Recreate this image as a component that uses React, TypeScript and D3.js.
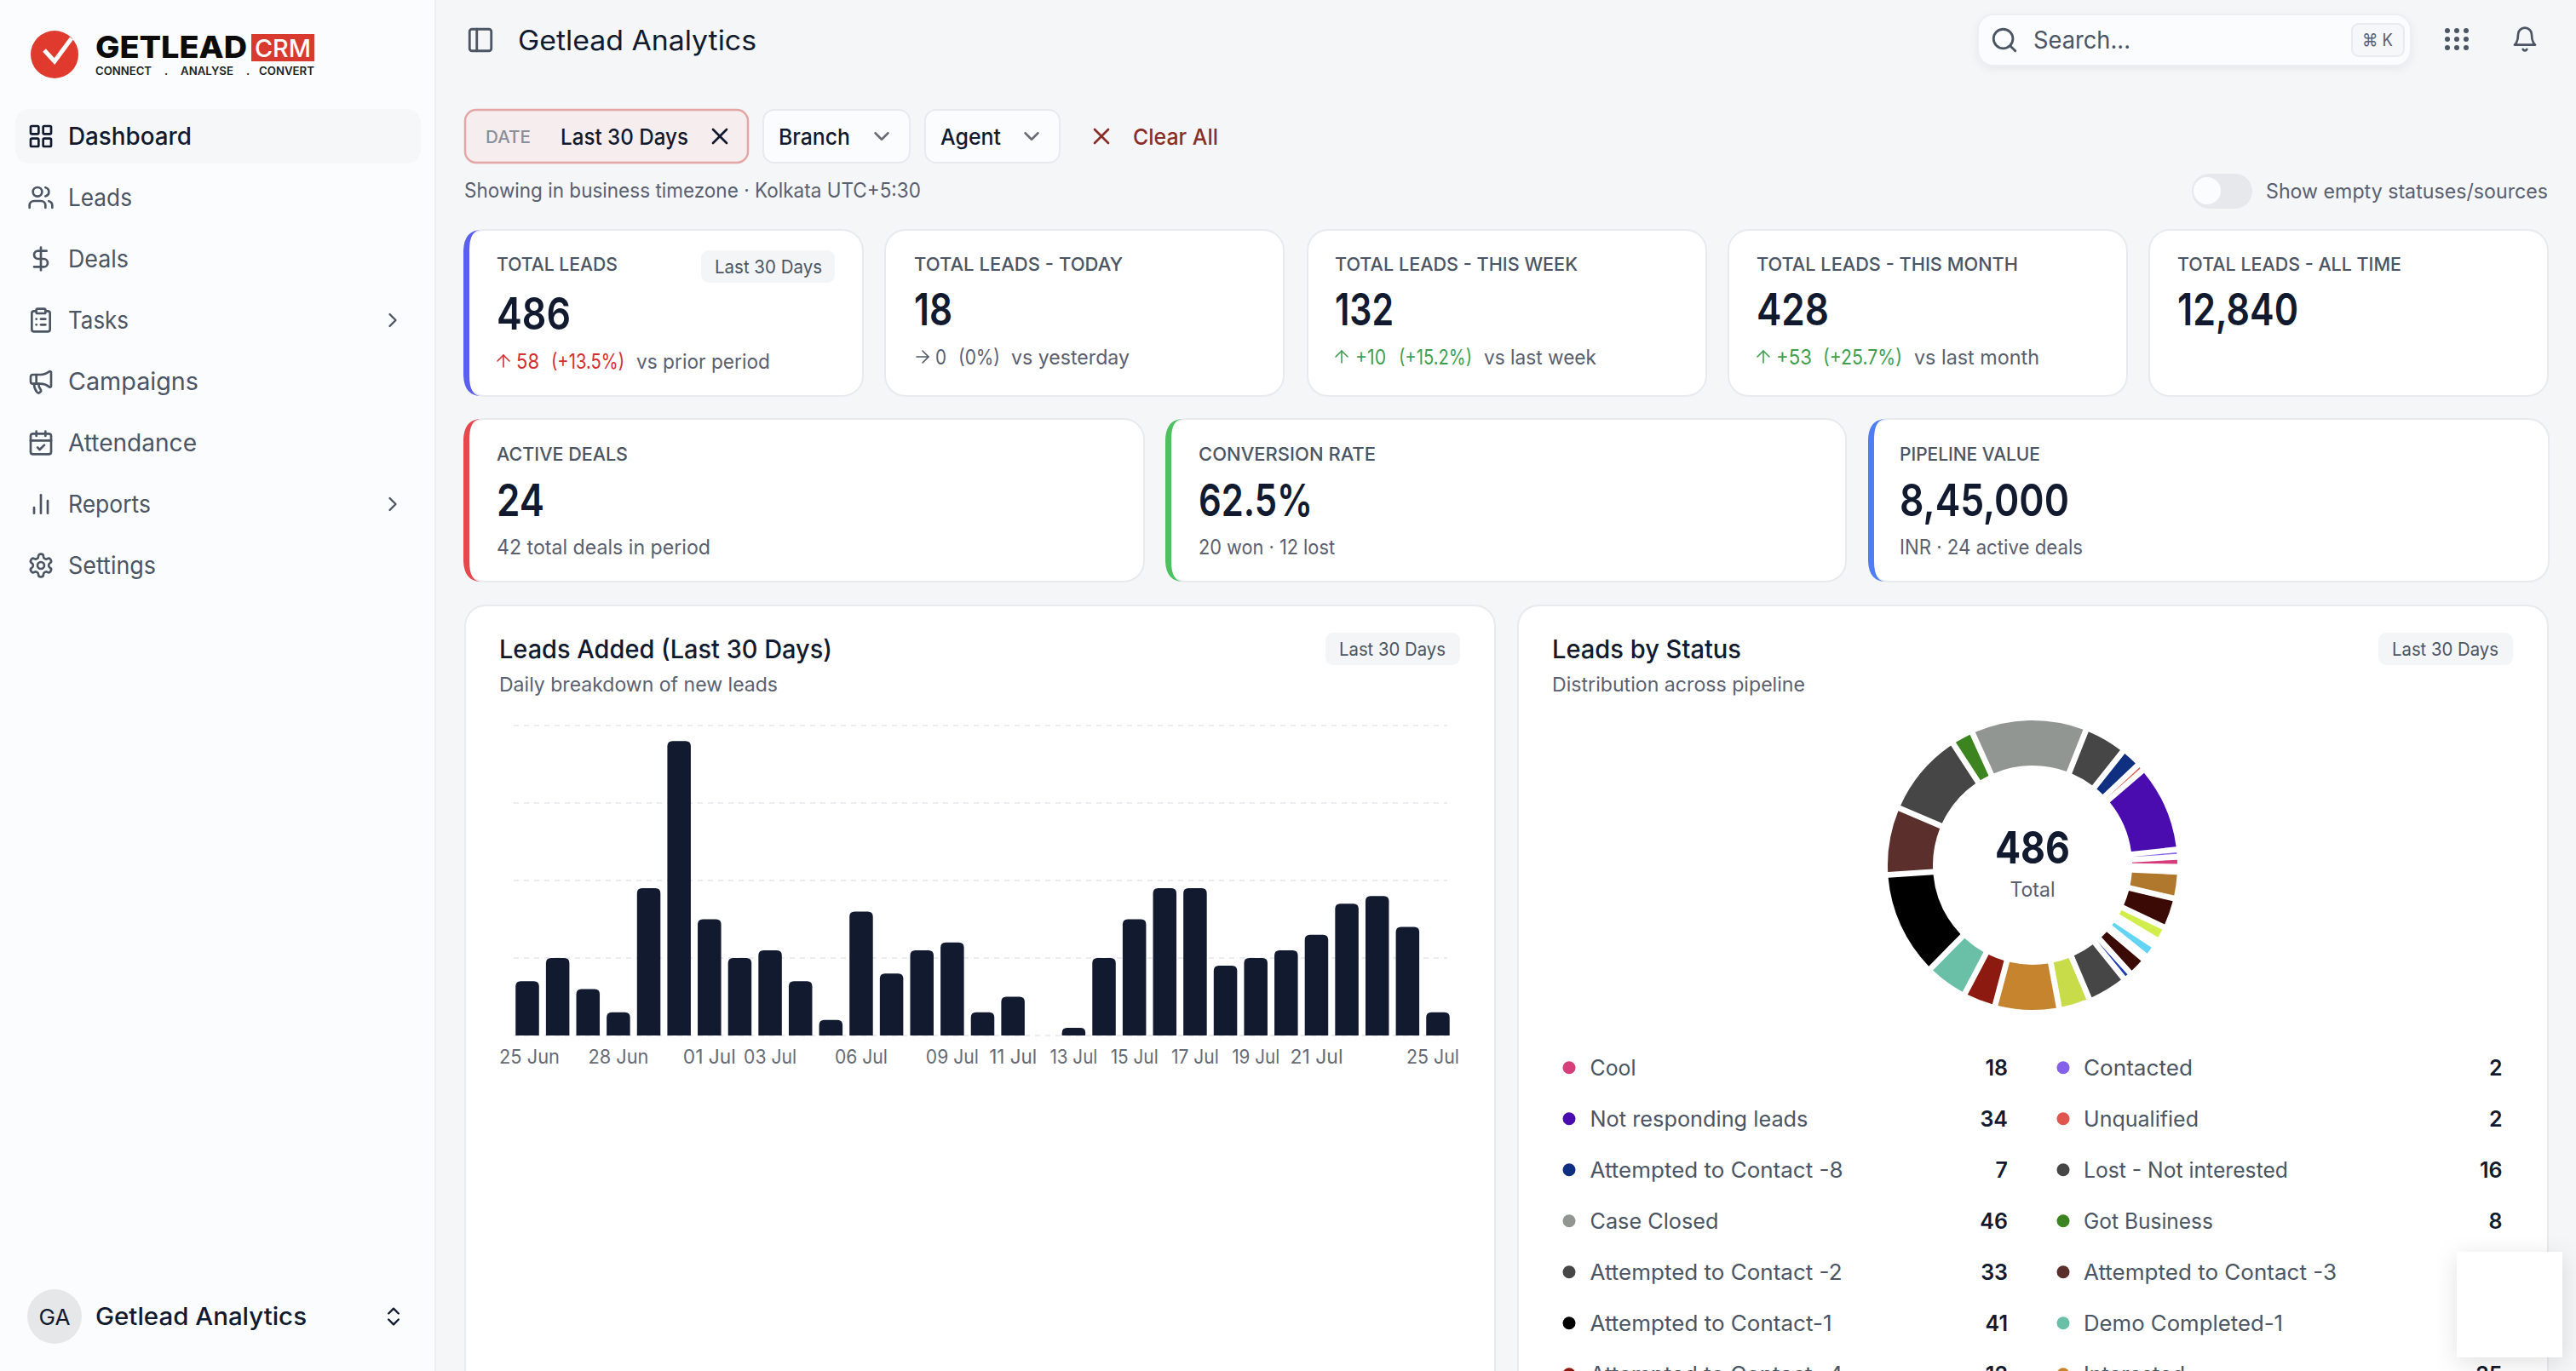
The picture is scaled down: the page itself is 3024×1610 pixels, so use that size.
import React from "react";
import * as d3 from "d3";

// ---------- data ----------
const dayLabels = ["25 Jun","26 Jun","27 Jun","28 Jun","29 Jun","30 Jun","01 Jul","02 Jul","03 Jul","04 Jul","05 Jul","06 Jul","07 Jul","08 Jul","09 Jul","10 Jul","11 Jul","12 Jul","13 Jul","14 Jul","15 Jul","16 Jul","17 Jul","18 Jul","19 Jul","20 Jul","21 Jul","22 Jul","23 Jul","24 Jul","25 Jul"];
const dayValues = [7,10,6,3,19,38,15,10,11,7,2,16,8,11,12,3,5,0,1,10,15,19,19,9,10,11,13,17,18,14,3];
const shownTicks = ["25 Jun","28 Jun","01 Jul","03 Jul","06 Jul","09 Jul","11 Jul","13 Jul","15 Jul","17 Jul","19 Jul","21 Jul","25 Jul"];
const gridValues = [0,10,20,30,40];

const legendNames = ["Cool","Contacted","Not responding leads","Unqualified","Attempted to Contact -8","Lost - Not interested","Case Closed","Got Business","Attempted to Contact -2","Attempted to Contact -3","Attempted to Contact-1","Demo Completed-1","Attempted to Contact -4","Interested"];
const legendValues = ["18","2","34","2","7","16","46","8","33","27","41","17","12","25"];
const legendColors = ["#d63d7a","#8461e8","#4a0cae","#e0554e","#0f2f80","#464646","#929692","#3b8420","#464646","#5a2f2c","#000000","#69c0a6","#8c1a10","#c6842f"];

// slices clockwise, starting with Case Closed; the unnamed entries are blank spacers seen in the ring
const sliceValues = [46,16.8,8,2.8,34.5,2.9,3.9,2,10.6,12,5.8,2.5,5.2,1.5,7.6,3.3,15.8,12.4,25.5,12.8,16.8,41.5,27,33.6,8.7];
const sliceColors = ["#929692","#464646","#0f2f80","#e0554e","#4a0cae","#8461e8","#d63d7a","none","#b0782c","#3c0a04","#d0ee4c","none","#64d4f4","none","#3c0a04","#1a3ab0","#464646","#c8db48","#c6842f","#8c1a10","#69c0a6","#000000","#5a2f2c","#464646","#3b8420"];

const navItems = ["Dashboard","Leads","Deals","Tasks","Campaigns","Attendance","Reports","Settings"];
const navIcons = ["grid","users","dollar","clipboard","megaphone","calendar","bars","gear"];

const kpiTitles = ["TOTAL LEADS","TOTAL LEADS - TODAY","TOTAL LEADS - THIS WEEK","TOTAL LEADS - THIS MONTH","TOTAL LEADS - ALL TIME"];
const kpiValues = ["486","18","132","428","12,840"];
const dealTitles = ["ACTIVE DEALS","CONVERSION RATE","PIPELINE VALUE"];
const dealValues = ["24","62.5%","8,45,000"];
const dealNotes = ["42 total deals in period","20 won · 12 lost","INR · 24 active deals"];

// ---------- layout ----------
const F = "Inter, 'Noto Sans', sans-serif";
const INK = "#111a2e", GREY = "#5a6070", RED = "#d32f2f", GREEN = "#3ea04e";

const rectD = (x:number,y:number,w:number,h:number,r:number)=>`M${x+r} ${y}h${w-2*r}a${r} ${r} 0 0 1 ${r} ${r}v${h-2*r}a${r} ${r} 0 0 1 ${-r} ${r}h${-(w-2*r)}a${r} ${r} 0 0 1 ${-r} ${-r}v${-(h-2*r)}a${r} ${r} 0 0 1 ${r} ${-r}z`;
const circD = (x:number,y:number,r:number)=>`M${x-r} ${y}a${r} ${r} 0 1 0 ${2*r} 0a${r} ${r} 0 1 0 ${-2*r} 0z`;
const ICONS: Record<string,string[]> = {
  grid:[rectD(3,3,7,7,1),rectD(14,3,7,7,1),rectD(14,14,7,7,1),rectD(3,14,7,7,1)],
  users:["M16 21v-2a4 4 0 0 0-4-4H6a4 4 0 0 0-4 4v2",circD(9,7,4),"M22 21v-2a4 4 0 0 0-3-3.87","M16 3.13a4 4 0 0 1 0 7.75"],
  dollar:["M12 2v20","M17 5H9.5a3.5 3.5 0 0 0 0 7h5a3.5 3.5 0 0 1 0 7H6"],
  clipboard:[rectD(8,2,8,4,1),"M16 4h2a2 2 0 0 1 2 2v14a2 2 0 0 1-2 2H6a2 2 0 0 1-2-2V6a2 2 0 0 1 2-2h2","M12 11h4","M12 16h4","M8 11h.01","M8 16h.01"],
  megaphone:["M11 6a13 13 0 0 0 8.4-2.8A1 1 0 0 1 21 4v12a1 1 0 0 1-1.6.8A13 13 0 0 0 11 14H5a2 2 0 0 1-2-2V8a2 2 0 0 1 2-2z","M6 14a12 12 0 0 0 2.4 7.2 2 2 0 0 0 3.2-2.4A8 8 0 0 1 10 14","M8 6v8"],
  calendar:["M8 2v4","M16 2v4",rectD(3,4,18,18,2),"M3 10h18","m9 16 2 2 4-4"],
  bars:["M12 20V4","M18 20V9","M6 20v-5"],
  gear:["M12.22 2h-.44a2 2 0 0 0-2 2v.18a2 2 0 0 1-1 1.73l-.43.25a2 2 0 0 1-2 0l-.15-.08a2 2 0 0 0-2.73.73l-.22.38a2 2 0 0 0 .73 2.73l.15.1a2 2 0 0 1 1 1.72v.51a2 2 0 0 1-1 1.74l-.15.09a2 2 0 0 0-.73 2.73l.22.38a2 2 0 0 0 2.73.73l.15-.08a2 2 0 0 1 2 0l.43.25a2 2 0 0 1 1 1.73V20a2 2 0 0 0 2 2h.44a2 2 0 0 0 2-2v-.18a2 2 0 0 1 1-1.73l.43-.25a2 2 0 0 1 2 0l.15.08a2 2 0 0 0 2.73-.73l.22-.39a2 2 0 0 0-.73-2.73l-.15-.08a2 2 0 0 1-1-1.74v-.5a2 2 0 0 1 1-1.74l.15-.09a2 2 0 0 0 .73-2.73l-.22-.38a2 2 0 0 0-2.73-.73l-.15.08a2 2 0 0 1-2 0l-.43-.25a2 2 0 0 1-1-1.73V4a2 2 0 0 0-2-2z",circD(12,12,3)],
  right:["m9 18 6-6-6-6"],
  down:["m6 9 6 6 6-6"],
  updown:["m7 15 5 5 5-5","m7 9 5-5 5 5"],
  x:["M18 6 6 18","m6 6 12 12"],
  search:[circD(11,11,8),"m21 21-4.3-4.3"],
  bell:["M6 8a6 6 0 0 1 12 0c0 7 3 9 3 9H3s3-2 3-9","M10.3 21a1.94 1.94 0 0 0 3.4 0"],
  panel:[rectD(3,3,18,18,2),"M9 3v18"],
  up:["m5 12 7-7 7 7","M12 19V5"],
  arrow:["M5 12h14","m12 5 7 7-7 7"],
};

const Icon = ({n,cx,cy,size=32,color="#4b5563",sw=2}:{n:string,cx:number,cy:number,size?:number,color?:string,sw?:number}) => (
  <g transform={`translate(${cx-size/2},${cy-size/2}) scale(${size/24})`} fill="none" stroke={color} strokeWidth={sw} strokeLinecap="round" strokeLinejoin="round">
    {ICONS[n].map((d,i)=><path key={i} d={d}/>)}
  </g>
);

const T = ({x,y,s,size=24,fill=GREY,w,weight=400,anchor="start",ls}:{x:number,y:number,s:string,size?:number,fill?:string,w?:number,weight?:number,anchor?:string,ls?:number}) => (
  <text x={x} y={y} fontSize={size} fontFamily={F} fill={fill} fontWeight={weight} textAnchor={anchor} dominantBaseline="central" letterSpacing={ls}
    {...(w?{textLength:w,lengthAdjust:"spacingAndGlyphs"}:{})}>{s}</text>
);

const Card = ({x,y,w,h,accent,r=24}:{x:number,y:number,w:number,h:number,accent?:string,r?:number}) => (
  <g>
    <rect x={x} y={y} width={w} height={h} rx={r} fill="#fff" stroke="#e8eaed" strokeWidth={2}/>
    {accent && <path fill={accent} d={`M${x+20} ${y}Q${x} ${y} ${x-1} ${y+r}V${y+h-r}Q${x} ${y+h} ${x+20} ${y+h}Q${x+6} ${y+h} ${x+6} ${y+h-r}V${y+r}Q${x+6} ${y} ${x+20} ${y}Z`}/>}
  </g>
);

const navW = [145,75,71,71,153,151,97,103];
const row1X = [545,1039,1535,2029,2523], row1W = 468;
const row1TextX = [583,1073,1567,2062,2556];
const row1TitleW = [142,245,285,307,263];
const row1ValW = [87,45,69,85,142];
const row2X = [545,1369,2194], row2W = 798;
const row2TextX = [583,1407,2230];
const row2TitleW = [154,208,165];
const row2ValW = [56,134,199];
const row2NoteW = [251,160,215];
const legendW = [54,128,256,135,297,240,151,152,296,297,284,234,297,119];

// ---------- scales ----------
const x = d3.scaleBand<string>().domain(dayLabels).range([601.2,1705.8]).paddingInner(0.228).paddingOuter(0.114);
const y = d3.scaleLinear().domain([0,40]).range([1216,852]);
const topRounded = (bx:number,by:number,bw:number,bh:number,r:number)=>{
  const rr = Math.min(r,bh);
  return `M${bx} ${by+bh}V${by+rr}Q${bx} ${by} ${bx+rr} ${by}H${bx+bw-rr}Q${bx+bw} ${by} ${bx+bw} ${by+rr}V${by+bh}Z`;
};
const pie = d3.pie<number>().sort(null).value(d=>d).startAngle(-24.45*Math.PI/180).endAngle((360-24.45)*Math.PI/180);
const arc = d3.arc<d3.PieArcDatum<number>>().innerRadius(117).outerRadius(170).padAngle(0.033);
const slices = pie(sliceValues);

export default function App(){
  return (
    <svg width={3024} height={1610} viewBox="0 0 3024 1610" style={{position:"fixed",left:0,top:0,display:"block"}}>
      <defs>
        <filter id="sh" x="-30%" y="-30%" width="160%" height="170%"><feDropShadow dx="0" dy="6" stdDeviation="14" floodColor="#000" floodOpacity="0.12"/></filter>
        <filter id="sh2" x="-10%" y="-30%" width="120%" height="170%"><feDropShadow dx="0" dy="3" stdDeviation="5" floodColor="#000" floodOpacity="0.06"/></filter>
      </defs>
      <rect width={3024} height={1610} fill="#f4f6f8"/>
      {/* sidebar */}
      <rect width={510} height={1610} fill="#fbfcfd"/>
      <rect x={510} width={2} height={1610} fill="#eceef1"/>
      <ellipse cx={64} cy={64} rx={28} ry={28} fill="#e03a2f"/>
      <path d="M52 59L64 72L84 45" fill="none" stroke="#fff" strokeWidth={5} />
      <T x={112} y={55} s="GETLEAD" size={36} weight={800} fill="#0b0b0b" w={178}/>
      <rect x={295} y={40} width={74} height={32} fill="#d93a30"/>
      <T x={299} y={56} s="CRM" size={29} weight={500} fill="#fff" w={66}/>
      <T x={112} y={83} s="CONNECT" size={12.5} weight={600} fill="#222" w={66}/>
      <T x={193} y={83} s="." size={13} weight={600} fill="#222"/>
      <T x={212} y={83} s="ANALYSE" size={12.5} weight={600} fill="#222" w={62}/>
      <T x={289} y={83} s="." size={13} weight={600} fill="#222"/>
      <T x={304} y={83} s="CONVERT" size={12.5} weight={600} fill="#222" w={65}/>
      <rect x={18} y={128} width={476} height={64} rx={16} fill="#f5f7f9"/>
      {navItems.map((n,i)=>{
        const cy = 160+72*i;
        return <g key={n}>
          <Icon n={navIcons[i]} cx={48} cy={cy} color={i===0?INK:"#4b5563"}/>
          <T x={80} y={cy} s={n} size={28} fill={i===0?INK:"#4b5563"} weight={i===0?500:400} w={navW[i]}/>
          {(n==="Tasks"||n==="Reports") && <Icon n="right" cx={461} cy={cy} size={28}/>}
        </g>;
      })}
      <circle cx={64} cy={1546} r={32} fill="#e6e7e9"/>
      <T x={64} y={1546} s="GA" size={26} fill={INK} anchor="middle" w={37}/>
      <T x={112} y={1546} s="Getlead Analytics" size={28} fill={INK} weight={500} w={248}/>
      <Icon n="updown" cx={462} cy={1546} size={28} color={INK}/>

      {/* header */}
      <Icon n="panel" cx={564} cy={47} size={34}/>
      <T x={608} y={47} s="Getlead Analytics" size={32} fill={INK} w={280}/>
      <rect x={2322} y={17} width={508} height={60} rx={18} fill="#fbfcfd" stroke="#eceef1" strokeWidth={2} filter="url(#sh2)"/>
      <Icon n="search" cx={2353} cy={47} size={34}/>
      <T x={2387} y={47} s="Search..." size={28} fill="#4b5563" w={114}/>
      <rect x={2761} y={28} width={61} height={38} rx={8} fill="#f6f7f9" stroke="#e8eaed" strokeWidth={2}/>
      <T x={2791} y={47} s="⌘ K" size={20} fill={GREY} anchor="middle" w={36}/>
      {[0,1,2].map(r=>[0,1,2].map(c=><circle key={`${r}${c}`} cx={2873+c*11} cy={36+r*10} r={3} fill="#4b5563"/>))}
      <Icon n="bell" cx={2964} cy={46} size={32}/>

      {/* filters */}
      <rect x={546} y={129} width={332} height={62} rx={13} fill="#f6eeee" stroke="#e4a6a4" strokeWidth={2.5}/>
      <T x={570} y={161} s="DATE" size={20} fill="#8a8f99" weight={500} w={53}/>
      <T x={658} y={160} s="Last 30 Days" size={26} fill={INK} weight={500} w={150}/>
      <Icon n="x" cx={845} cy={160} size={32} color={INK}/>
      <rect x={896} y={129} width={172} height={62} rx={13} fill="#fbfcfd" stroke="#e8eaed" strokeWidth={2}/>
      <T x={914} y={160} s="Branch" size={26} fill={INK} weight={500} w={84}/>
      <Icon n="down" cx={1035} cy={160} size={30} color="#666b74"/>
      <rect x={1086} y={129} width={158} height={62} rx={13} fill="#fbfcfd" stroke="#e8eaed" strokeWidth={2}/>
      <T x={1104} y={160} s="Agent" size={26} fill={INK} weight={500} w={71}/>
      <Icon n="down" cx={1211} cy={160} size={30} color="#666b74"/>
      <Icon n="x" cx={1293} cy={160} size={32} color="#8b2e28"/>
      <T x={1330} y={160} s="Clear All" size={26} fill="#8b2e28" weight={500} w={100}/>
      <T x={545} y={223} s="Showing in business timezone · Kolkata UTC+5:30" size={24} w={536}/>
      <rect x={2573} y={204} width={71} height={41} rx={20.5} fill="#e6e8eb"/>
      <ellipse cx={2591} cy={224} rx={16} ry={16} fill="#fbfcfd"/>
      <T x={2660} y={224} s="Show empty statuses/sources" size={24} w={331}/>

      {/* KPI row 1 */}
      {kpiTitles.map((t,i)=>{
        const first = i===0;
        return <g key={t}>
          <Card x={row1X[i]} y={270} w={row1W} h={195} accent={first?"#5b5fef":undefined}/>
          <T x={row1TextX[i]} y={310} s={t} size={22} fill="#4b5563" weight={500} w={row1TitleW[i]}/>
          <T x={row1TextX[i]} y={first?368:363} s={kpiValues[i]} size={52} fill={INK} weight={600} w={row1ValW[i]}/>
        </g>;
      })}
      <rect x={823} y={294} width={157} height={38} rx={9} fill="#f3f5f7"/>
      <T x={839} y={313} s="Last 30 Days" size={22} fill="#4b5563" w={126}/>
      <Icon n="up" cx={591} cy={424} size={24} color={RED} sw={1.6}/>
      <T x={606} y={424} s="58" size={24} fill={RED} w={27}/>
      <T x={647} y={424} s="(+13.5%)" size={24} fill={RED} w={86}/>
      <T x={747} y={424} s="vs prior period" size={24} w={157}/>
      <Icon n="arrow" cx={1083} cy={419} size={24} sw={1.6}/>
      <T x={1098} y={419} s="0" size={24} w={13}/>
      <T x={1125} y={419} s="(0%)" size={24} w={49}/>
      <T x={1187} y={419} s="vs yesterday" size={24} w={139}/>
      <Icon n="up" cx={1575} cy={419} size={24} color={GREEN} sw={1.6}/>
      <T x={1591} y={419} s="+10" size={24} fill={GREEN} w={36}/>
      <T x={1642} y={419} s="(+15.2%)" size={24} fill={GREEN} w={86}/>
      <T x={1742} y={419} s="vs last week" size={24} w={132}/>
      <Icon n="up" cx={2070} cy={419} size={24} color={GREEN} sw={1.6}/>
      <T x={2085} y={419} s="+53" size={24} fill={GREEN} w={42}/>
      <T x={2140} y={419} s="(+25.7%)" size={24} fill={GREEN} w={93}/>
      <T x={2247} y={419} s="vs last month" size={24} w={147}/>

      {/* KPI row 2 */}
      {dealTitles.map((t,i)=><g key={t}>
        <Card x={row2X[i]} y={492} w={row2W} h={191} accent={["#e5484d","#4cc25e","#4f7df3"][i]}/>
        <T x={row2TextX[i]} y={533} s={t} size={22} fill="#4b5563" weight={500} w={row2TitleW[i]}/>
        <T x={row2TextX[i]} y={587} s={dealValues[i]} size={52} fill={INK} weight={600} w={row2ValW[i]}/>
        <T x={row2TextX[i]} y={642} s={dealNotes[i]} size={24} w={row2NoteW[i]}/>
      </g>)}

      {/* bar chart card */}
      <Card x={546} y={711} w={1209} h={1000}/>
      <T x={586} y={762} s="Leads Added (Last 30 Days)" size={30} fill={INK} weight={500} w={391}/>
      <T x={586} y={804} s="Daily breakdown of new leads" size={23} w={327}/>
      <rect x={1556} y={743} width={158} height={38} rx={9} fill="#f3f5f7"/>
      <T x={1572} y={762} s="Last 30 Days" size={21} fill="#4b5563" w={125}/>
      {gridValues.map(v=><line key={v} x1={603} x2={1699} y1={y(v)} y2={y(v)} stroke="#e4e6ea" strokeWidth={1.5} strokeDasharray="6 6"/>)}
      {dayValues.map((v,i)=>{
        const bx = x(dayLabels[i])!, bw = x.bandwidth();
        return v>0 ? <path key={i} d={topRounded(bx,y(v),bw,y(0)-y(v),6)} fill={INK}/> : null;
      })}
      {shownTicks.map((t,i)=>{
        const c = x(t)!+x.bandwidth()/2;
        const cx = i===0?621.5:i===shownTicks.length-1?1682:c;
        return <T key={t} x={cx} y={1241} s={t} size={23} anchor="middle" fill="#666b76" w={t.length===6?(t.endsWith("Jun")?71:t.startsWith("1")?56:62):undefined}/>;
      })}

      {/* donut card */}
      <Card x={1782} y={711} w={1209} h={1000}/>
      <T x={1822} y={762} s="Leads by Status" size={30} fill={INK} weight={500} w={222}/>
      <T x={1822} y={804} s="Distribution across pipeline" size={23} w={297}/>
      <rect x={2792} y={743} width={158} height={38} rx={9} fill="#f3f5f7"/>
      <T x={2808} y={762} s="Last 30 Days" size={21} fill="#4b5563" w={125}/>
      <g transform="translate(2386,1016)">
        {slices.map((s,i)=>sliceColors[i]==="none"?null:<path key={i} d={arc(s)!} fill={sliceColors[i]}/>)}
      </g>
      <T x={2386} y={995} s="486" size={52} fill={INK} weight={700} anchor="middle" w={88}/>
      <T x={2386} y={1044} s="Total" size={24} anchor="middle" fill="#5a6070" w={53}/>
      {legendNames.map((n,i)=>{
        const col = i%2, row = Math.floor(i/2), cy = 1253.7+60*row;
        const dotX = col?2422:1842, textX = col?2446:1866.5, rightX = col?2937.6:2357;
        return <g key={n}>
          <circle cx={dotX} cy={cy} r={7.5} fill={legendColors[i]}/>
          <T x={textX} y={cy} s={n} size={25} fill="#4b5563" w={legendW[i]}/>
          <T x={rightX} y={cy} s={legendValues[i]} size={25} fill={INK} weight={600} anchor="end"/>
        </g>;
      })}
      <rect x={2884} y={1470} width={124} height={124} fill="#fff" filter="url(#sh)"/>
    </svg>
  );
}
